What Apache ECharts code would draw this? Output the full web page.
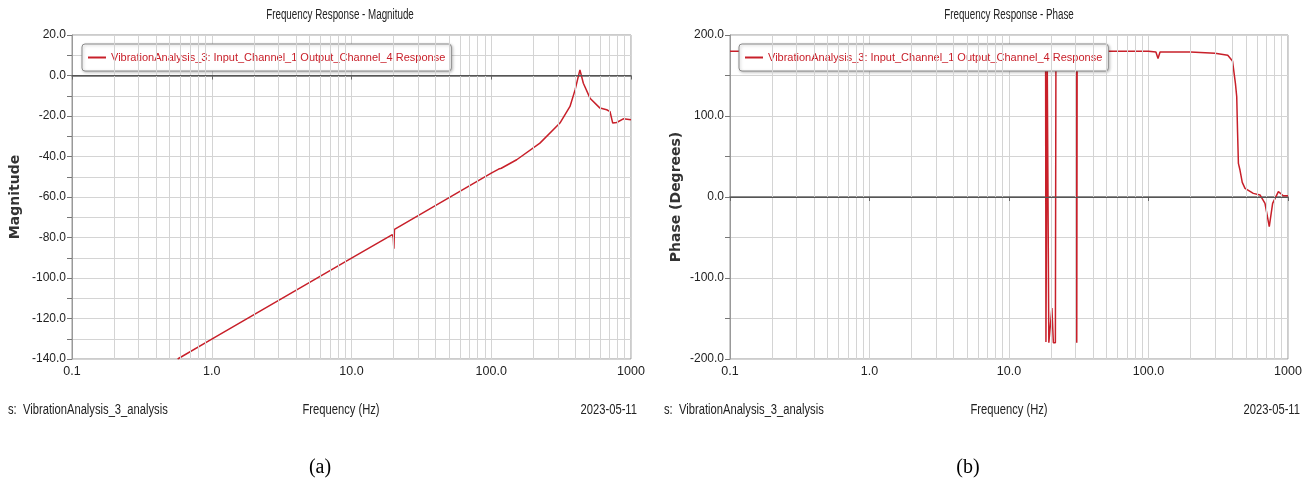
<!DOCTYPE html>
<html>
<head>
<meta charset="utf-8">
<script src="https://cdn.jsdelivr.net/npm/echarts@6/dist/echarts.min.js"></script>
<style>
  html, body { margin: 0; padding: 0; background: #fff; }
  #chart { width: 1307px; height: 487px; }
</style>
</head>
<body>
<div id="chart"></div>
<script>
  // magnitude response [Hz, dB]
  var magData = [
    [0.57, -140], [1, -130.2], [10, -90.2], [19.6, -78.6], [19.9, -80],
    [20.1, -85.5], [20.3, -76], [20.6, -75.6], [100, -48.2], [113, -46.2],
    [116, -46.9], [118, -45.8], [152, -41.6], [223, -33.4], [310, -23.5],
    [366, -15.3], [398, -7.1], [431, 2.8], [456, -3.8], [509, -11.2],
    [600, -16.1], [670, -16.9], [708, -17.8], [740, -23.5], [790, -23.2],
    [881, -21.4], [1000, -21.9]
  ];
  // phase response [Hz, deg]
  var phaseData = [
    [0.1, 180], [18.3, 180], [18.4, -179], [18.7, -179], [18.8, 165],
    [19.1, 165], [19.3, -180], [19.8, -178], [20.3, -137], [20.8, -180],
    [21.5, -180], [21.7, 180], [30.4, 180], [30.6, -180], [30.8, 180],
    [100, 180], [113, 179], [117, 171], [121, 179], [200, 179], [300, 177.5],
    [370, 175], [400, 168], [420, 140], [429, 123.8], [435, 80], [441, 41.6],
    [453, 33], [470, 18], [492, 10.7], [564, 4.5], [630, 2.5], [684, -7.8],
    [734, -36.6], [776, -7.8], [853, 6.6], [925, 1.6], [1000, 1.6]
  ];
  var decades = [0.1, 1, 10, 100];
  var seriesName = 'VibrationAnalysis_3: Input_Channel_1 Output_Channel_4 Response';
  var titles = ['Frequency Response - Magnitude', 'Frequency Response - Phase'];
  var yNames = ['Magnitude', 'Phase (Degrees)'];
  var footLeft = 's:  VibrationAnalysis_3_analysis';
  var footMid = 'Frequency (Hz)';
  var footRight = '2023-05-11';

  var sans = "'Liberation Sans', Arial, sans-serif";
  var red = '#c8202a';

  // minor log grid lines at 2..9 of each decade
  var minorLines = [];
  decades.forEach(function (d) {
    for (var k = 2; k <= 9; k++) minorLines.push({ xAxis: d * k });
  });
  minorLines.push({ yAxis: 0, lineStyle: { color: '#555', width: 1.2, type: 'solid' } });

  function xAxisOf(idx) {
    return {
      type: 'log', logBase: 10, min: 0.1, max: 1000, gridIndex: idx,
      axisLine: { lineStyle: { color: '#666', width: 1.5 } },
      axisTick: { show: true, length: 4, lineStyle: { color: '#666' } },
      axisLabel: {
        fontSize: 12.5, color: '#222', fontFamily: sans, margin: 6,
        formatter: function (v) {
          if (v < 0.5) return '0.1';
          if (v > 500) return '1000';
          return v.toFixed(1);
        }
      },
      splitLine: { show: true, lineStyle: { color: '#d4d4d4' } }
    };
  }
  function yAxisOf(idx, min, max, step, name, gap) {
    return {
      type: 'value', gridIndex: idx, min: min, max: max, interval: step,
      name: name, nameLocation: 'middle', nameGap: gap,
      nameTextStyle: { fontSize: 14, fontWeight: 'bold', color: '#333', fontFamily: 'DejaVu Sans, sans-serif' },
      axisLine: { show: true, lineStyle: { color: '#999' } },
      axisTick: { show: true, length: 5, lineStyle: { color: '#777' } },
      minorTick: { show: true, splitNumber: 2, length: 5, lineStyle: { color: '#777' } },
      axisLabel: {
        fontSize: 12, color: '#222', fontFamily: sans, margin: 6,
        formatter: function (v) { return v.toFixed(1); }
      },
      splitLine: { show: true, lineStyle: { color: '#d4d4d4' } },
      minorSplitLine: { show: true, lineStyle: { color: '#d4d4d4' } }
    };
  }
  function legendOf(left) {
    return {
      data: [seriesName], left: left, top: 44, orient: 'horizontal',
      backgroundColor: '#fff', borderColor: '#8a8a8a', borderWidth: 1, borderRadius: 3,
      padding: [8, 6, 8, 6],
      shadowBlur: 3, shadowColor: 'rgba(0,0,0,0.25)', shadowOffsetX: 1, shadowOffsetY: 1,
      icon: 'rect', itemWidth: 18, itemHeight: 2, itemGap: 4,
      textStyle: { color: red, fontSize: 11, fontFamily: sans }
    };
  }
  function gridSeries(idx) {
    return {
      name: 'grid' + idx, type: 'line', xAxisIndex: idx, yAxisIndex: idx, data: [], z: 1,
      markLine: {
        silent: true, symbol: 'none', animation: false, label: { show: false },
        lineStyle: { color: '#d4d4d4', width: 1, type: 'solid' },
        data: minorLines
      }
    };
  }
  // condensed-looking text (the original uses a narrow face)
  function narrowText(x, y, text, align, size, sx) {
    return {
      type: 'text', x: x, y: y, scaleX: sx,
      style: { text: text, fill: '#222', font: size + 'px ' + sans, textAlign: align, textVerticalAlign: 'middle' }
    };
  }

  var chart = echarts.init(document.getElementById('chart'));
  chart.setOption({
    animation: false,
    backgroundColor: '#fff',
    legend: [legendOf(82), legendOf(739)],
    grid: [
      { left: 72, top: 35, width: 559, height: 324, show: true, borderColor: '#999', backgroundColor: '#fff' },
      { left: 730, top: 35, width: 558, height: 324, show: true, borderColor: '#999', backgroundColor: '#fff' }
    ],
    xAxis: [xAxisOf(0), xAxisOf(1)],
    yAxis: [
      yAxisOf(0, -140, 20, 20, yNames[0], 50),
      yAxisOf(1, -200, 200, 100, yNames[1], 47)
    ],
    series: [
      gridSeries(0),
      gridSeries(1),
      {
        name: seriesName, type: 'line', xAxisIndex: 0, yAxisIndex: 0, data: magData,
        showSymbol: false, z: 3, lineStyle: { color: red, width: 1.5 }, itemStyle: { color: red }
      },
      {
        name: seriesName, type: 'line', xAxisIndex: 1, yAxisIndex: 1, data: phaseData,
        showSymbol: false, z: 3, lineStyle: { color: red, width: 1.5 }, itemStyle: { color: red }
      }
    ],
    graphic: [
      narrowText(340, 15, titles[0], 'center', 14, 0.7),
      narrowText(1009, 15, titles[1], 'center', 14, 0.7),
      narrowText(8, 410, footLeft, 'left', 14, 0.8),
      narrowText(341, 410, footMid, 'center', 14, 0.8),
      narrowText(637, 410, footRight, 'right', 14, 0.8),
      narrowText(664, 410, footLeft, 'left', 14, 0.8),
      narrowText(1009, 410, footMid, 'center', 14, 0.8),
      narrowText(1300, 410, footRight, 'right', 14, 0.8),
      { type: 'text', x: 320, y: 468, style: { text: '(a)', fill: '#000', font: '20px "Liberation Serif", serif', textAlign: 'center', textVerticalAlign: 'middle' } },
      { type: 'text', x: 968, y: 468, style: { text: '(b)', fill: '#000', font: '20px "Liberation Serif", serif', textAlign: 'center', textVerticalAlign: 'middle' } }
    ]
  });
</script>
</body>
</html>
